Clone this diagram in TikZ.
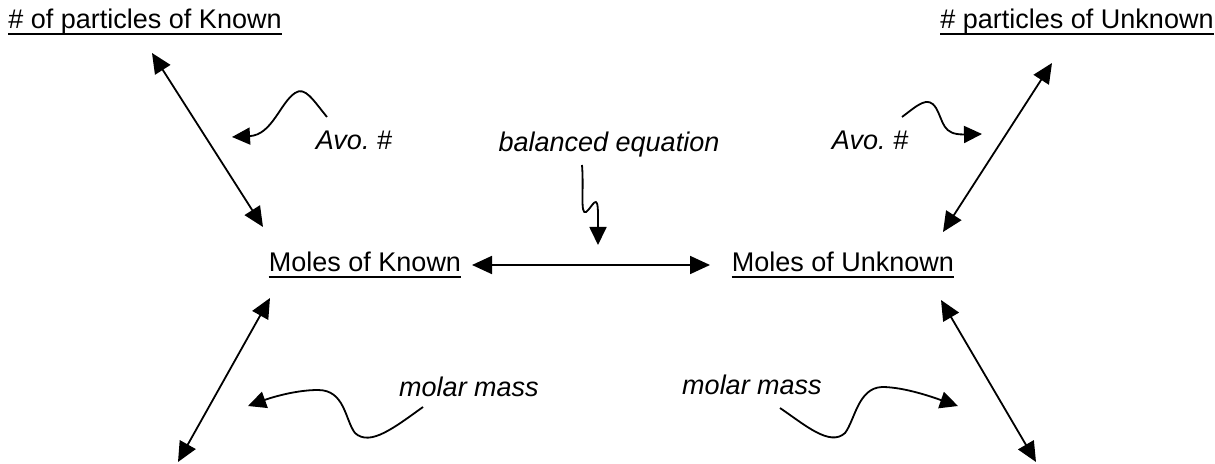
\documentclass[tikz,border=0pt]{standalone}
\usepackage{fontspec}
\setmainfont{Liberation Sans}
\usepackage{tikz}
\usetikzlibrary{positioning, arrows.meta, calc}
\frenchspacing

\begin{document}
\begin{tikzpicture}[x=0.5pt, y=-0.5pt,
  every node/.style={font=\fontsize{13.5}{16}\selectfont, inner sep=0pt},
  heading/.style={anchor=base, text depth=0pt},
  hint/.style={anchor=base, font=\fontsize{13.5}{16}\selectfont\itshape},
  link/.style={line width=0.9pt, {Triangle[length=10pt,width=9pt]}-{Triangle[length=10pt,width=9pt]}},
  squiggle/.style={line width=0.9pt, -{Triangle[length=9pt,width=8.5pt]}}]
\useasboundingbox (0,0) rectangle (1215,464);

\node[heading] (partK) at (145,29) {\# of particles of Known};
\node[heading] (partU) at (1077,29) {\# particles of Unknown};
\node[heading] (molK) at (365,272) {Moles of Known};
\node[heading] (molU) at (843,272) {Moles of Unknown};

\node[hint] (avoK) at (354,150) {Avo. \#};
\node[hint] (avoU) at (870,150) {Avo. \#};
\node[hint] (balance) at (609,152) {balanced equation};
\node[hint] (massK) at (469,397) {molar mass};
\node[hint] (massU) at (752,394) {molar mass};

\foreach \n in {partK,partU,molK,molU}
  \draw[line width=1pt] ([yshift=-2.5pt]\n.south west) -- ([yshift=-2.5pt]\n.south east);

\coordinate (pkEnd) at (152,53);
\coordinate (mkTop) at (263,227);
\coordinate (puEnd) at (1052,63);
\coordinate (muTop) at (943,232);
\coordinate (mkRight) at (472,265);
\coordinate (muLeft) at (710,265);
\coordinate (mkBot) at (270,298);
\coordinate (gkEnd) at (178,462);
\coordinate (muBot) at (941,300);
\coordinate (guEnd) at (1036,462);

\draw[link] (pkEnd) -- (mkTop);
\draw[link] (puEnd) -- (muTop);
\draw[link] (mkRight) -- (muLeft);
\draw[link] (mkBot) -- (gkEnd);
\draw[link] (muBot) -- (guEnd);

\coordinate (avoKtail) at (327,117);
\coordinate (avoUtail) at (902,117);
\coordinate (balTail) at (582,165);
\coordinate (massKtail) at (423,407);
\coordinate (massUtail) at (780,408);

\draw[squiggle] (avoKtail) .. controls (313,100) and (305,86) .. (295,93)
  .. controls (280,103) and (272,135) .. (232,137);
\draw[squiggle] (avoUtail) .. controls (918,105) and (928,95) .. (936,108)
  .. controls (944,122) and (942,135) .. (982,134);
\draw[squiggle] (balTail) .. controls (584,190) and (580,215) .. (586,212)
  .. controls (592,208) and (598,190) .. (598,215) -- (598,245);
\draw[squiggle] (massKtail) .. controls (395,427) and (370,447) .. (355,433)
  .. controls (345,420) and (345,390) .. (318,390)
  .. controls (295,390) and (270,398) .. (248,406);
\draw[squiggle] (massUtail) .. controls (805,425) and (830,447) .. (845,433)
  .. controls (855,420) and (858,388) .. (882,387)
  .. controls (905,387) and (935,398) .. (958,406);
\end{tikzpicture}
\end{document}
